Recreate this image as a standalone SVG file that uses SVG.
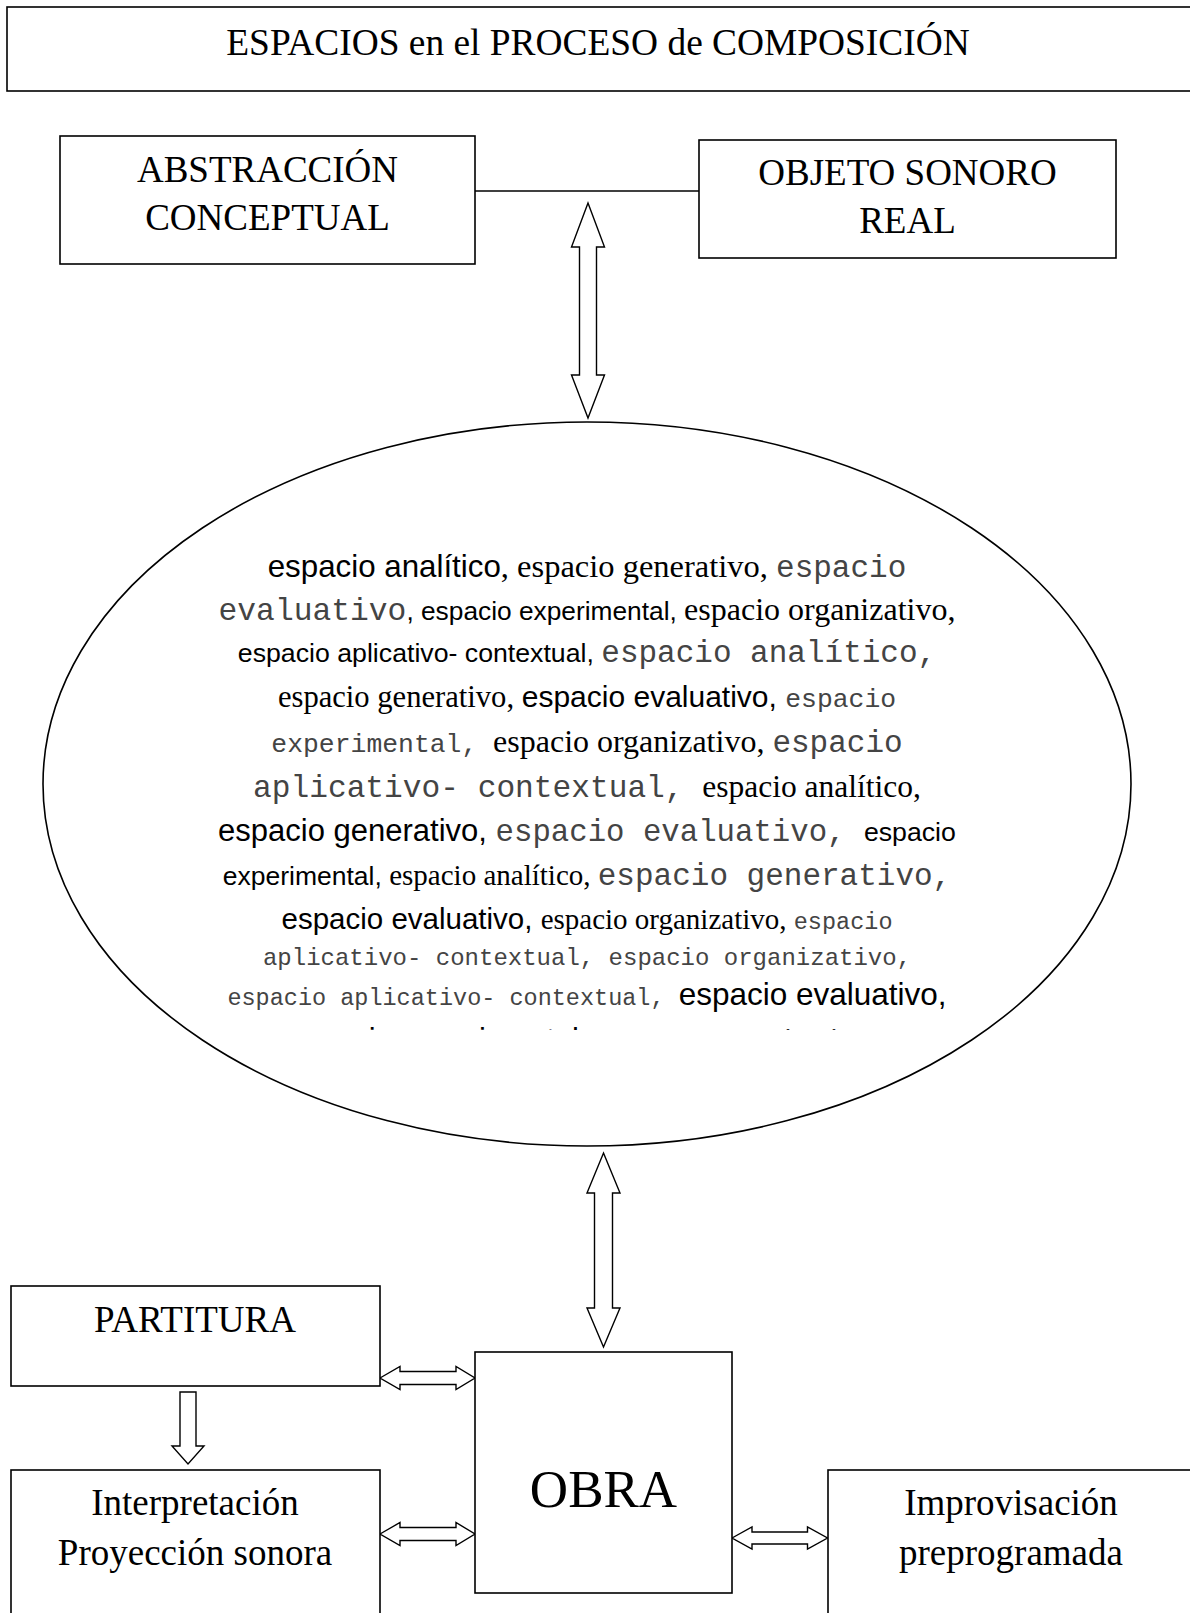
<svg xmlns="http://www.w3.org/2000/svg" width="1190" height="1613" viewBox="0 0 1190 1613">
<defs>
<style>
.box{fill:#fff;stroke:#000;stroke-width:1.6}
.lbl{font-family:"Liberation Serif","Times New Roman",serif;font-size:37px;fill:#000;text-anchor:middle}
.big{font-size:53px}
.ttl{font-size:37.4px}
.arr{fill:#fff;stroke:#000;stroke-width:1.4;stroke-linejoin:miter}
.ln{fill:none;stroke:#000;stroke-width:1.6}
.A{font-family:"Liberation Sans",Arial,sans-serif;fill:#000}
.T{font-family:"Liberation Serif","Times New Roman",serif;fill:#000}
.C{font-family:"Liberation Mono","Courier New",monospace;fill:#444}
.et{text-anchor:middle}
</style>
<clipPath id="clipLast"><rect x="0" y="0" width="1190" height="1030"/></clipPath>
</defs>
<rect width="1190" height="1613" fill="#fff"/>

<g id="title">
<rect class="box" x="7" y="7" width="1200" height="84"/>
<text class="lbl ttl" x="598" y="55">ESPACIOS en el PROCESO de COMPOSICIÓN</text>
</g>

<g id="connectors">
<line class="ln" x1="475" y1="191" x2="699" y2="191"/>
<polygon class="arr" points="588,203 604.5,247 596.5,247 596.5,375 604.5,375 588,418 571.5,375 579.5,375 579.5,247 571.5,247"/>
<polygon class="arr" points="603.5,1153 620,1193 612.5,1193 612.5,1308 620,1308 603.5,1347 587,1308 594.5,1308 594.5,1193 587,1193"/>
<polygon class="arr" points="180,1392 196,1392 196,1446 204,1446 188,1464 172,1446 180,1446"/>
<polygon class="arr" points="380,1378 400,1366.5 400,1371.5 456,1371.5 456,1366.5 475,1378 456,1389.5 456,1384.5 400,1384.5 400,1389.5"/>
<polygon class="arr" points="380,1534 400,1522.5 400,1527.5 456,1527.5 456,1522.5 475,1534 456,1545.5 456,1540.5 400,1540.5 400,1545.5"/>
<polygon class="arr" points="732,1538 752,1527 752,1532 807.5,1532 807.5,1527 827.5,1538 807.5,1549 807.5,1544 752,1544 752,1549"/>
</g>

<g id="abstraccion">
<rect class="box" x="60" y="136" width="415" height="128"/>
<text class="lbl" x="267.5" y="182">ABSTRACCIÓN</text>
<text class="lbl" x="267.5" y="230">CONCEPTUAL</text>
</g>

<g id="objeto">
<rect class="box" x="699" y="140" width="417" height="118"/>
<text class="lbl" x="907.5" y="185">OBJETO SONORO</text>
<text class="lbl" x="907.5" y="233">REAL</text>
</g>

<g id="espacios">
<ellipse cx="587" cy="784" rx="544" ry="362" fill="#fff" stroke="#000" stroke-width="1.6"/>
<text class="et" x="587" y="577"><tspan class="A" font-size="31.3">espacio analítico</tspan><tspan class="T" font-size="32.5">, espacio generativo, </tspan><tspan class="C" font-size="31">espacio</tspan></text>
<text class="et" x="587" y="620"><tspan class="C" font-size="31.3">evaluativo</tspan><tspan class="A" font-size="26.3">, espacio experimental, </tspan><tspan class="T" font-size="32">espacio organizativo,</tspan></text>
<text class="et" x="587" y="662"><tspan class="A" font-size="26.7">espacio aplicativo- contextual, </tspan><tspan class="C" font-size="31">espacio analítico,</tspan></text>
<text class="et" x="587" y="707"><tspan class="T" font-size="30.6">espacio generativo, </tspan><tspan class="A" font-size="30">espacio evaluativo, </tspan><tspan class="C" font-size="26.4">espacio</tspan></text>
<text class="et" x="587" y="752"><tspan class="C" font-size="26.4">experimental, </tspan><tspan class="T" font-size="32">espacio organizativo, </tspan><tspan class="C" font-size="31">espacio</tspan></text>
<text class="et" x="587" y="797"><tspan class="C" font-size="31.2">aplicativo- contextual, </tspan><tspan class="T" font-size="31.5">espacio analítico,</tspan></text>
<text class="et" x="587" y="841"><tspan class="A" font-size="31">espacio generativo, </tspan><tspan class="C" font-size="30.7">espacio evaluativo, </tspan><tspan class="A" font-size="26.7">espacio</tspan></text>
<text class="et" x="587" y="885"><tspan class="A" font-size="26.5">experimental, </tspan><tspan class="T" font-size="29">espacio analítico, </tspan><tspan class="C" font-size="31">espacio generativo,</tspan></text>
<text class="et" x="587" y="929"><tspan class="A" font-size="29.5">espacio evaluativo, </tspan><tspan class="T" font-size="29">espacio organizativo, </tspan><tspan class="C" font-size="23.5">espacio</tspan></text>
<text class="et" x="587" y="965"><tspan class="C" font-size="24">aplicativo- contextual, espacio organizativo,</tspan></text>
<text class="et" x="587" y="1005"><tspan class="C" font-size="23.5">espacio aplicativo- contextual, </tspan><tspan class="A" font-size="31.5">espacio evaluativo,</tspan></text>
<g clip-path="url(#clipLast)">
<text x="286" y="1050"><tspan class="A" font-size="31">espacio experimental, </tspan><tspan class="C" font-size="24">espacio </tspan><tspan class="T" font-size="32">organizativo,</tspan></text>
</g>
</g>

<g id="partitura">
<rect class="box" x="11" y="1286" width="369" height="100"/>
<text class="lbl" x="195" y="1332">PARTITURA</text>
</g>

<g id="interpretacion">
<rect class="box" x="11" y="1470" width="369" height="160"/>
<text class="lbl" x="195" y="1515">Interpretación</text>
<text class="lbl" x="195" y="1565">Proyección sonora</text>
</g>

<g id="obra">
<rect class="box" x="475" y="1352" width="257" height="241"/>
<text class="lbl big" x="603.5" y="1507">OBRA</text>
</g>

<g id="improvisacion">
<rect class="box" x="828" y="1470" width="380" height="160"/>
<text class="lbl" x="1011" y="1515">Improvisación</text>
<text class="lbl" x="1011" y="1565">preprogramada</text>
</g>
</svg>
